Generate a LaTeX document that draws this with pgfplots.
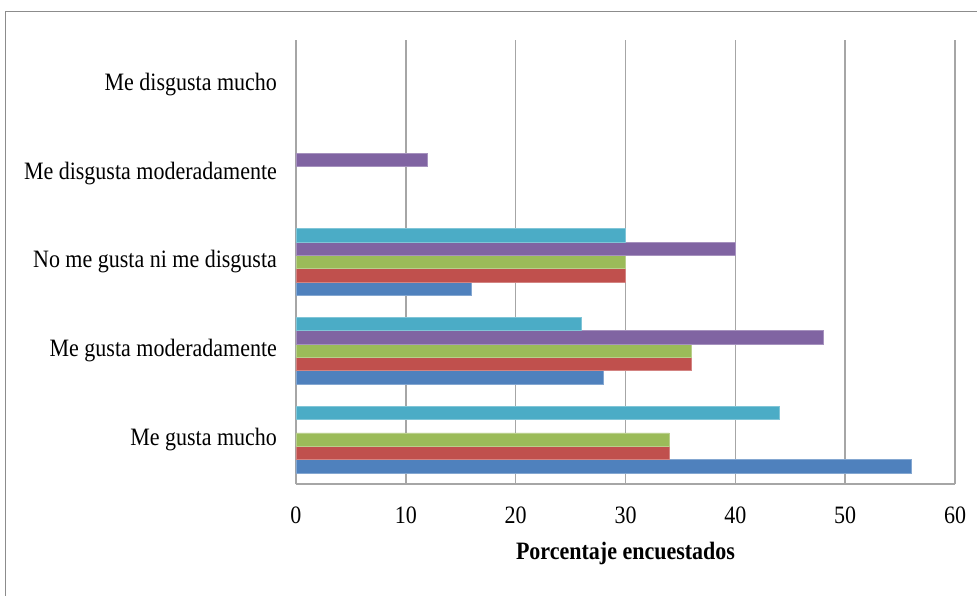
\documentclass[border=0pt]{standalone}
\usepackage{fontspec}
\setmainfont{Liberation Serif}[FakeStretch=0.88]
\usepackage{pgfplots}
\pgfplotsset{compat=1.18}

\definecolor{sBlue}{HTML}{4F81BD}
\definecolor{sRed}{HTML}{C0504D}
\definecolor{sGreen}{HTML}{9BBB59}
\definecolor{sPurple}{HTML}{8064A2}
\definecolor{sCyan}{HTML}{4BACC6}
\definecolor{gridgray}{HTML}{A6A6A6}
\definecolor{framegray}{HTML}{8C8C8C}

\begin{document}
\begin{tikzpicture}
\begin{axis}[
  scale only axis,
  width=329.5pt, height=222pt,
  xbar, bar width=0.15,
  xmin=0, xmax=60,
  ymin=-0.5, ymax=4.5,
  xtick={0,10,...,60},
  ytick={0,1,2,3,4},
  yticklabels={Me gusta mucho, Me gusta moderadamente, No me gusta ni me disgusta, Me disgusta moderadamente, Me disgusta mucho},
  axis x line*=bottom, axis y line*=left,
  axis line style={gridgray, line width=0.8pt, -},
  xmajorgrids, major grid style={gridgray, line width=0.8pt},
  major tick length=0pt,
  tick label style={font=\fontsize{12.5}{14}\selectfont},
  xticklabel style={yshift=-8pt},
  yticklabel style={xshift=-6pt},
  /pgf/number format/assume math mode=true,
  xlabel={\textbf{Porcentaje encuestados}},
  xlabel style={font=\fontsize{12.5}{14}\selectfont, at={(axis description cs:0.5,0)}, anchor=center, yshift=-34.5pt},
  every axis plot/.append style={line width=0.4pt},
]
% blue series
\addplot[fill=sBlue, draw=sBlue!70!white, bar shift=-0.30] coordinates {(56,0) (28,1) (16,2)};
% red series
\addplot[fill=sRed, draw=sRed!70!white, bar shift=-0.15] coordinates {(34,0) (36,1) (30,2)};
% green series
\addplot[fill=sGreen, draw=sGreen!70!white, bar shift=0] coordinates {(34,0) (36,1) (30,2)};
% purple series
\addplot[fill=sPurple, draw=sPurple!70!white, bar shift=0.15] coordinates {(48,1) (40,2) (12,3)};
% cyan series
\addplot[fill=sCyan, draw=sCyan!70!white, bar shift=0.30] coordinates {(44,0) (26,1) (30,2)};
\end{axis}
% chart frame
\draw[framegray, line width=0.8pt] (-145.25pt,-70pt) -- (-145.25pt,236.25pt) -- (360pt,236.25pt);
\pgfresetboundingbox
\useasboundingbox (-148pt,-55.5pt) rectangle (340.5pt,242pt);
\end{tikzpicture}
\end{document}
